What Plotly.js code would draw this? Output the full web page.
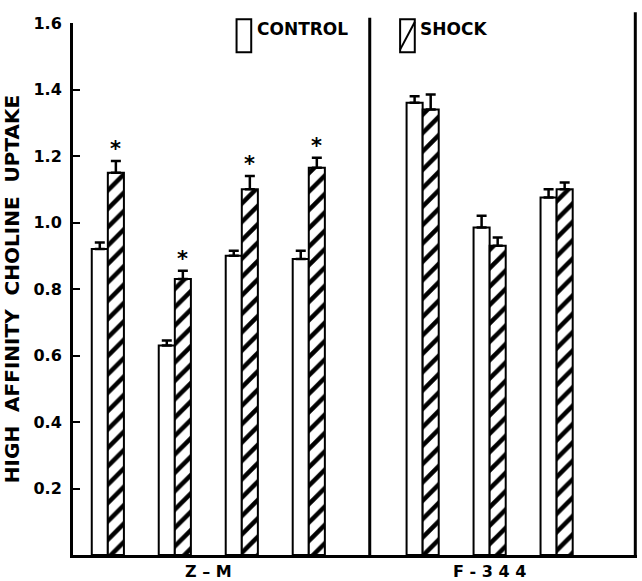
<!DOCTYPE html>
<html>
<head>
<meta charset="utf-8">
<script src="https://cdn.plot.ly/plotly-3.0.1.min.js"></script>
<style>
  html, body { margin: 0; padding: 0; background: #fff; }
  #chart { width: 642px; height: 581px; }
</style>
</head>
<body>
<div id="chart"></div>
<script>
// ---- data ----
const groupNames   = ['Z-M', 'F-344'];
const pairGroup    = ['Z-M', 'Z-M', 'Z-M', 'Z-M', 'F-344', 'F-344', 'F-344'];
const controlMean  = [0.92, 0.63, 0.90, 0.89, 1.36, 0.985, 1.075];
const controlErr   = [0.02, 0.015, 0.015, 0.025, 0.02, 0.035, 0.025];
const shockMean    = [1.15, 0.83, 1.10, 1.165, 1.34, 0.93, 1.10];
const shockErr     = [0.035, 0.025, 0.04, 0.03, 0.045, 0.025, 0.02];
const significant  = [true, true, true, true, false, false, false];
const groupLabels  = ['Z – M', 'F - 3 4 4'];
const yTickVals    = [0.2, 0.4, 0.6, 0.8, 1.0, 1.2, 1.4, 1.6];
const yTickText    = ['0.2', '0.4', '0.6', '0.8', '1.0', '1.2', '1.4', '1.6'];
const legendNames  = ['CONTROL', 'SHOCK'];

// ---- layout helpers (positions derived from group structure) ----
const groupGap = 0.7;   // extra space between the two strains
const positions = [];
{
  let idx = 0, g = 0, prev = null;
  pairGroup.forEach((name) => {
    if (prev !== null && name !== prev) { g += 1; }
    positions.push(1 + idx + g * groupGap);
    idx += 1; prev = name;
  });
}
const groupCenters = groupNames.map(name => {
  const xs = positions.filter((p, i) => pairGroup[i] === name);
  return (xs[0] + xs[xs.length - 1]) / 2;
});
const lastZM = positions[pairGroup.lastIndexOf('Z-M')];
const firstF = positions[pairGroup.indexOf('F-344')];
const dividerX = (lastZM + firstF) / 2 + 0.06;
const xRange = [0.48, positions[positions.length - 1] + 1.2];
const bargap = 0.52;
const halfSlot = (1 - bargap) / 4;

const font = 'DejaVu Sans, Arial, sans-serif';

const traceControl = {
  type: 'bar', name: legendNames[0], x: positions, y: controlMean,
  marker: { color: '#ffffff', line: { color: '#000', width: 2 } },
  error_y: { type: 'data', symmetric: false, array: controlErr,
             arrayminus: controlErr.map(() => 0), color: '#000', thickness: 2.5, width: 5 },
  hoverinfo: 'y'
};
const traceShock = {
  type: 'bar', name: legendNames[1], x: positions, y: shockMean,
  marker: { color: '#ffffff', line: { color: '#000', width: 2 },
            pattern: { shape: '/', fgcolor: '#000', bgcolor: '#fff', size: 13, solidity: 0.35 } },
  error_y: { type: 'data', symmetric: false, array: shockErr,
             arrayminus: shockErr.map(() => 0), color: '#000', thickness: 2.5, width: 5 },
  hoverinfo: 'y'
};

const annotations = [];
significant.forEach((sig, i) => {
  if (!sig) return;
  annotations.push({
    x: positions[i] + halfSlot, y: shockMean[i] + shockErr[i], xref: 'x', yref: 'y',
    text: '<b>*</b>', showarrow: false, yanchor: 'bottom', yshift: -2,
    font: { family: font, size: 21, color: '#000' }
  });
});
// legend texts
annotations.push({ x: 0.323, y: 0.988, xref: 'paper', yref: 'paper', xanchor: 'left', yanchor: 'middle',
  text: '<b>' + legendNames[0] + '</b>', showarrow: false, font: { family: font, size: 17, color: '#000' } });
annotations.push({ x: 0.612, y: 0.988, xref: 'paper', yref: 'paper', xanchor: 'left', yanchor: 'middle',
  text: '<b>' + legendNames[1] + '</b>', showarrow: false, font: { family: font, size: 17, color: '#000' } });

const shapes = [
  // divider between strains
  { type: 'line', xref: 'x', yref: 'paper', x0: dividerX, x1: dividerX, y0: 0, y1: 1.01,
    line: { color: '#000', width: 3 } },
  // right frame line
  { type: 'line', xref: 'paper', yref: 'paper', x0: 0.997, x1: 0.997, y0: 0, y1: 1.02,
    line: { color: '#000', width: 3 } },
  // legend boxes
  { type: 'rect', xref: 'paper', yref: 'paper', x0: 0.290, x1: 0.316, y0: 0.945, y1: 1.007,
    line: { color: '#000', width: 2 }, fillcolor: '#fff' },
  { type: 'rect', xref: 'paper', yref: 'paper', x0: 0.580, x1: 0.606, y0: 0.945, y1: 1.007,
    line: { color: '#000', width: 2 }, fillcolor: '#fff' },
  { type: 'line', xref: 'paper', yref: 'paper', x0: 0.580, x1: 0.606, y0: 0.950, y1: 1.002,
    line: { color: '#000', width: 2 } }
];

const layout = {
  width: 642, height: 581,
  margin: { l: 73, r: 5, t: 23, b: 26 },
  paper_bgcolor: '#fff', plot_bgcolor: '#fff',
  showlegend: false,
  barmode: 'group', bargap: bargap, bargroupgap: 0,
  font: { family: font, color: '#000' },
  xaxis: {
    range: xRange, showgrid: false, zeroline: false,
    showline: true, linecolor: '#000', linewidth: 3,
    tickmode: 'array', tickvals: groupCenters, ticktext: groupLabels.map(t => '<b>' + t + '</b>'),
    ticks: '', tickfont: { family: font, size: 16, color: '#000' }
  },
  yaxis: {
    range: [0, 1.6], showgrid: false, zeroline: false,
    showline: true, linecolor: '#000', linewidth: 3,
    tickmode: 'array', tickvals: yTickVals, ticktext: yTickText.map(t => '<b>' + t + '</b>'),
    ticks: 'inside', ticklen: 7, tickwidth: 2, tickcolor: '#000',
    ticklabelstandoff: 5,
    tickfont: { family: font, size: 16, color: '#000' },
    title: { text: '<b>HIGH  AFFINITY  CHOLINE  UPTAKE</b>', standoff: 10,
             font: { family: font, size: 20, color: '#000' } }
  },
  annotations: annotations,
  shapes: shapes
};

Plotly.newPlot('chart', [traceControl, traceShock], layout, { displayModeBar: false, staticPlot: true });
</script>
</body>
</html>
